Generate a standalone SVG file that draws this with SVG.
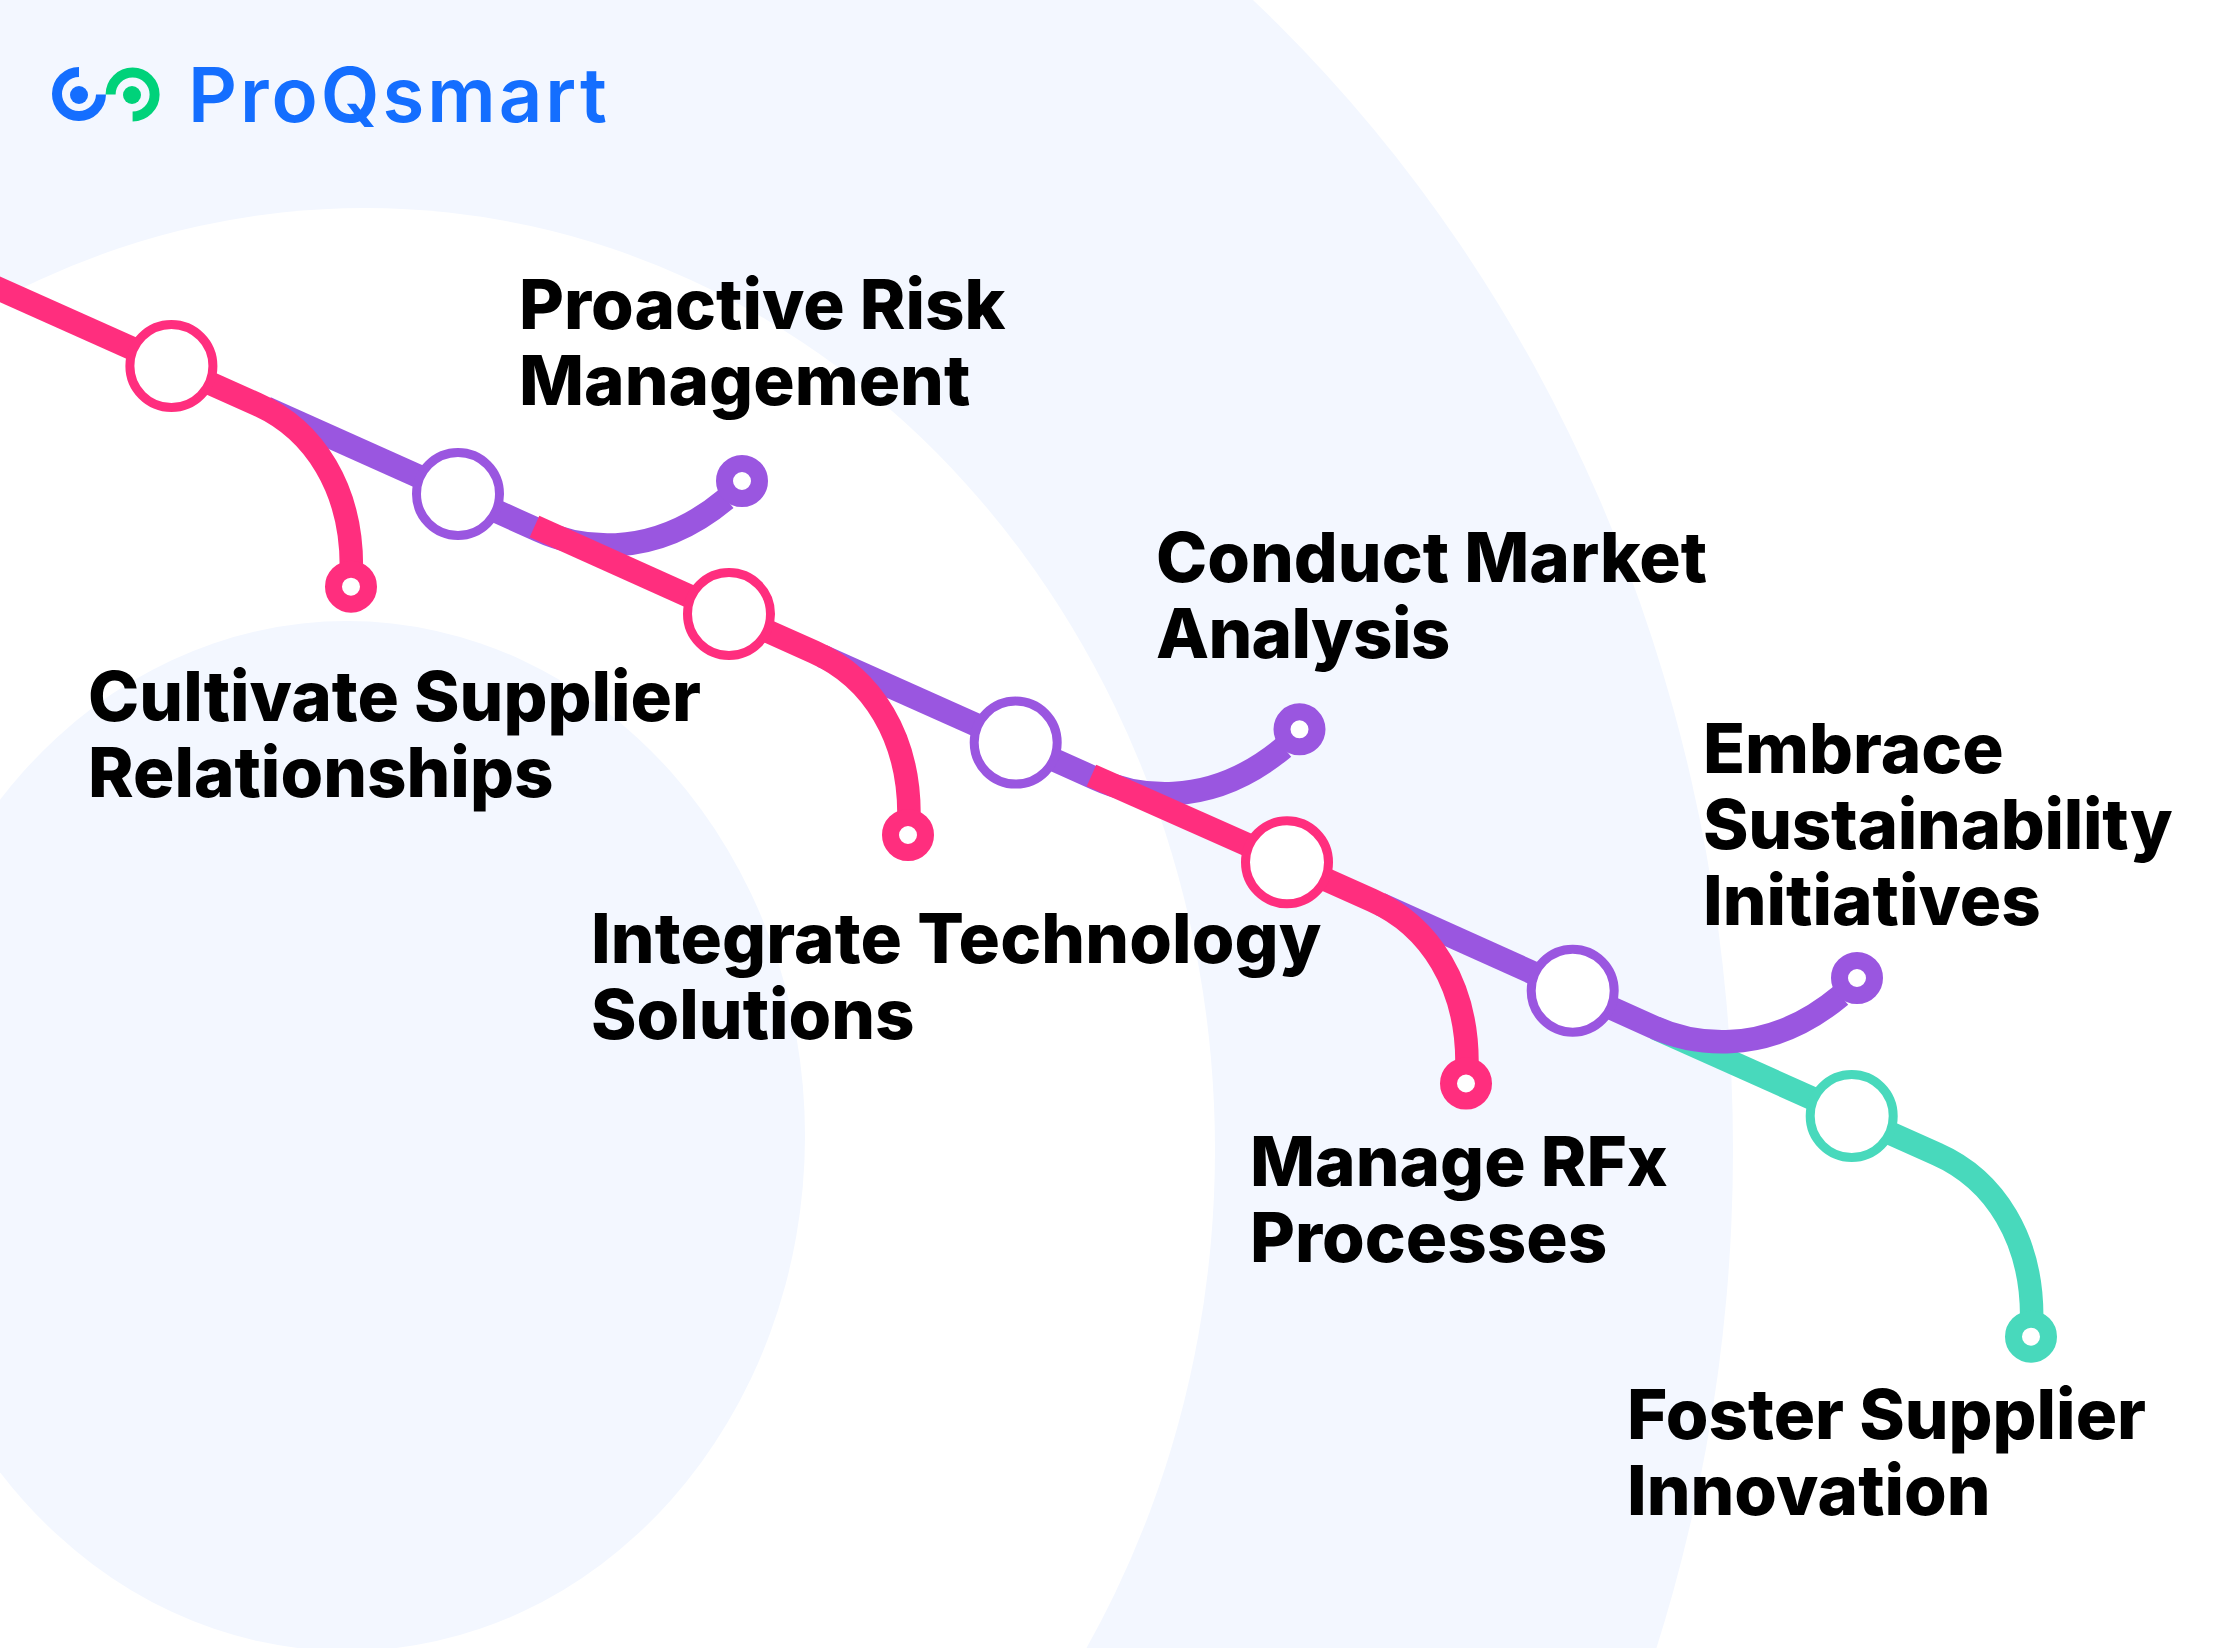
<svg xmlns="http://www.w3.org/2000/svg" width="2215" height="1648" viewBox="0 0 2215 1648">
<style>
.t{font-family:"Inter","Liberation Sans",sans-serif;font-weight:800;font-size:69px;fill:#000}
.l{fill:none;stroke-width:23.5}
.n{fill:#fff;stroke-width:9}
.d{fill:#fff;stroke-width:17}
.p{stroke:#FF2E7E}.u{stroke:#9A56E0}.g{stroke:#48D9BC}
</style>
<defs>
<path id="down" d="M0,0L85,38C144,64 180,124 180,200"/>
<path id="up" d="M0,0L80,36C115,52 190,70 268,5"/>
</defs>
<rect width="2215" height="1648" fill="#fff"/>
<g id="background">
<ellipse cx="346" cy="1150" rx="1387" ry="1520" fill="#F3F7FF"/>
<ellipse cx="365" cy="1150" rx="850" ry="942" fill="#fff"/>
<ellipse cx="347" cy="1136" rx="458" ry="515" fill="#F3F7FF"/>
</g>
<g id="logo">
<path d="M79,72A22,22 0 1 0 101,94.5" fill="none" stroke="#146EFF" stroke-width="10"/>
<circle cx="79" cy="95" r="9" fill="#146EFF"/>
<path d="M110.6,94.5A22,22 0 1 1 132.6,116.5" fill="none" stroke="#00D27A" stroke-width="10"/>
<circle cx="132" cy="95" r="9" fill="#00D27A"/>
<text x="188" y="122" style="font-family:Inter,'Liberation Sans',sans-serif;font-weight:600;font-size:76px;letter-spacing:3px;fill:#146EFF">ProQsmart</text>
</g>
<g id="connectors">
<path class="l p" d="M-30,276L171.4,366"/>
<path class="l u" d="M266,408L458,494"/>
<use class="l p" href="#down" x="171.4" y="366"/>
<use class="l u" href="#up" x="458" y="494"/>
<path class="l p" d="M534.5,526.5L729,614"/>
<path class="l u" d="M822,656L1015.7,742.6"/>
<use class="l p" href="#down" x="729" y="614"/>
<use class="l u" href="#up" x="1015.7" y="742.6"/>
<path class="l p" d="M1091.5,775.5L1287,862.3"/>
<path class="l u" d="M1380,904L1572.7,990.7"/>
<use class="l p" href="#down" x="1287" y="862.3"/>
<path class="l g" d="M1655,1028L1851.7,1116"/>
<use class="l g" href="#down" x="1851.7" y="1116"/>
<use class="l u" href="#up" x="1572.7" y="990.7"/>
</g>
<g id="node1"><circle class="n p" cx="171.4" cy="366" r="41.5"/><circle class="d p" cx="351" cy="586.7" r="17.5"/><text class="t" x="88" y="721">Cultivate Supplier</text><text class="t" x="88" y="797">Relationships</text></g>
<g id="node2"><circle class="n u" cx="458" cy="494" r="41.5"/><circle class="d u" cx="742" cy="481" r="17.5"/><text class="t" x="519" y="329">Proactive Risk</text><text class="t" x="519" y="405">Management</text></g>
<g id="node3"><circle class="n p" cx="729" cy="614" r="41.5"/><circle class="d p" cx="908" cy="835" r="17.5"/><text class="t" x="591" y="963" style="letter-spacing:.1px">Integrate Technology</text><text class="t" x="591" y="1039">Solutions</text></g>
<g id="node4"><circle class="n u" cx="1015.7" cy="742.6" r="41.5"/><circle class="d u" cx="1299.5" cy="729.3" r="17.5"/><text class="t" x="1156" y="582">Conduct Market</text><text class="t" x="1156" y="658" style="letter-spacing:-.7px">Analysis</text></g>
<g id="node5"><circle class="n p" cx="1287" cy="862.3" r="41.5"/><circle class="d p" cx="1466" cy="1083.5" r="17.5"/><text class="t" x="1250" y="1186">Manage RFx</text><text class="t" x="1250" y="1262">Processes</text></g>
<g id="node6"><circle class="n u" cx="1572.7" cy="990.7" r="41.5"/><circle class="d u" cx="1857" cy="978" r="17.5"/><text class="t" x="1703" y="773">Embrace</text><text class="t" x="1703" y="849" style="letter-spacing:-.3px">Sustainability</text><text class="t" x="1703" y="925">Initiatives</text></g>
<g id="node7"><circle class="n g" cx="1851.7" cy="1116" r="41.5"/><circle class="d g" cx="2031" cy="1336.7" r="17.5"/><text class="t" x="1627" y="1439">Foster Supplier</text><text class="t" x="1627" y="1515">Innovation</text></g>
</svg>
